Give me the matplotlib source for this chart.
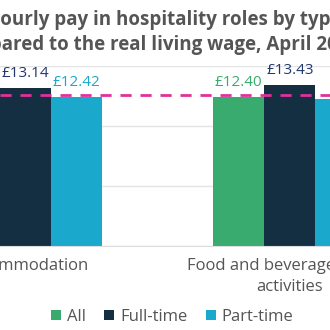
import matplotlib
matplotlib.use("Agg")
import matplotlib.pyplot as plt
import numpy as np

categories = ["Accommodation", "Food and beverage service\nactivities"]
series = ["All", "Full-time", "Part-time"]
all_vals = [12.80, 12.40]
full_vals = [13.14, 13.43]
part_vals = [12.42, 12.22]
living_wage = 12.60
yticks = [0, 5, 10, 15]

bar_colors = ["#3aab6e", "#142f42", "#1aa8cc"]
label_colors = ["#3aab6e", "#22386b", "#1aa8cc"]

plt.rcParams['font.family'] = ['Open Sans', 'DejaVu Sans']

W, H = 330, 330
fig = plt.figure(figsize=(3.3, 3.3), dpi=100)
ax = fig.add_axes([0, (330 - 246) / 330, 1, (246 - 66) / 330])

x = np.arange(len(categories))
w = 51 / 264.3
for i, (name, vals) in enumerate(zip(series, [all_vals, full_vals, part_vals])):
    pos = x + (i - 1) * w
    bars = ax.bar(pos, vals, width=w, color=bar_colors[i], label=name, zorder=2)
    for b, v in zip(bars, vals):
        ax.annotate(f"£{v:.2f}", (b.get_x() + b.get_width() / 2, v),
                    xytext=(0, 5), textcoords="offset points",
                    ha="center", va="bottom", fontsize=11,
                    color=label_colors[i], zorder=4)

ax.axhline(living_wage, color="#e0309a", linestyle=(0, (4, 3.2)), linewidth=2, zorder=3)

ax.set_xlim(-25.5 / 264.3, (330 - 25.5) / 264.3)
ax.set_ylim(0, 15)
ax.set_yticks(yticks)
ax.set_yticklabels([])
ax.grid(axis="y", color="#e4e4e4", linewidth=1, zorder=0)
ax.set_axisbelow(True)
for s in ["top", "right", "left"]:
    ax.spines[s].set_visible(False)
ax.spines["bottom"].set_color("#dddddd")
ax.tick_params(axis="both", length=0)
ax.set_xticks(x)
ax.set_xticklabels(categories, fontsize=12, color="#555555", linespacing=1.4)
ax.tick_params(axis="x", pad=9)

fig.text(-14 / W, 1 - 20 / H, "Hourly pay in hospitality roles by type",
         ha="left", va="center", fontsize=13.5, fontweight="bold", color="#555555")
fig.text(-50 / W, 1 - 45 / H, "compared to the real living wage, April 2024",
         ha="left", va="center", fontsize=13.5, fontweight="bold", color="#555555")

fig.legend(loc="center", bbox_to_anchor=(172 / W, 1 - 317 / H), ncol=3,
           frameon=False, fontsize=12, handlelength=0.6, handleheight=0.6,
           handletextpad=0.35, columnspacing=1.1, labelcolor="#555555")

fig.savefig("out.png", dpi=100)
